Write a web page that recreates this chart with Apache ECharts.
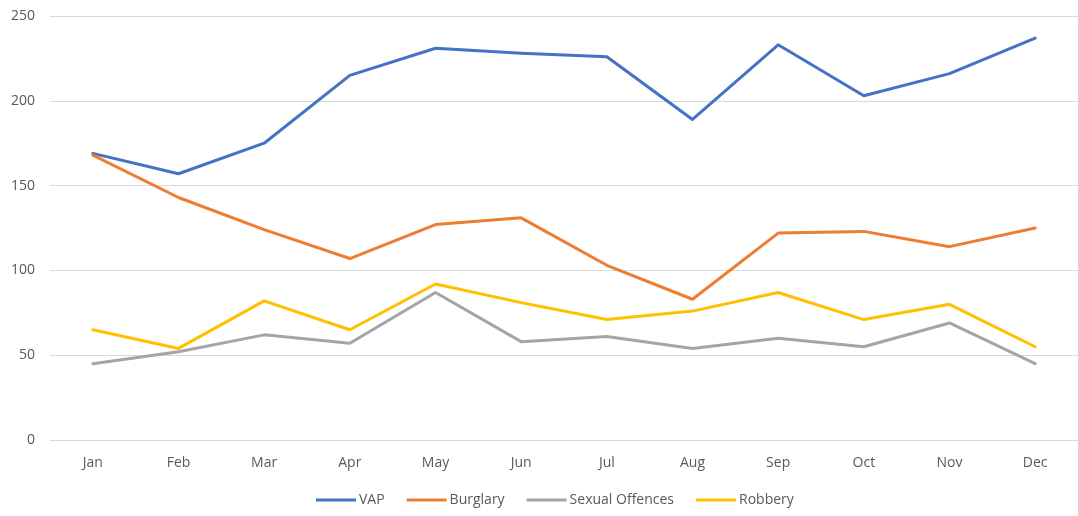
<!DOCTYPE html>
<html>
<head>
<meta charset="utf-8">
<script src="https://cdn.jsdelivr.net/npm/echarts@6/dist/echarts.min.js"></script>
<style>
html,body{margin:0;padding:0;background:#fff;}
#c{width:1078px;height:516px;}
</style>
</head>
<body>
<div id="c"></div>
<script>
const categories = ['Jan','Feb','Mar','Apr','May','Jun','Jul','Aug','Sep','Oct','Nov','Dec'];
const vap = [169, 157, 175, 215, 231, 228, 226, 189, 233, 203, 216, 237];
const burglary = [168, 143, 124, 107, 127, 131, 103, 83, 122, 123, 114, 125];
const sexualOffences = [45, 52, 62, 57, 87, 58, 61, 54, 60, 55, 69, 45];
const robbery = [65, 54, 82, 65, 92, 81, 71, 76, 87, 71, 80, 55];
const yTicks = [0, 50, 100, 150, 200, 250];

const chart = echarts.init(document.getElementById('c'));
const font = '"Open Sans", "Noto Sans", sans-serif';
const mk = (name, data, color) => ({
  name, type: 'line', data, symbol: 'none', smooth: false,
  lineStyle: { width: 3, color, cap: 'round', join: 'round' },
  itemStyle: { color }
});
chart.setOption({
  animation: false,
  backgroundColor: '#fff',
  grid: { left: 50, right: -4, top: 16, bottom: 76 },
  legend: {
    bottom: 4, left: 311,
    itemWidth: 40, itemHeight: 3, itemGap: 22,
    icon: 'rect',
    textStyle: { color: '#595959', fontSize: 14, fontFamily: font, padding: [0,0,0,-2] },
    data: ['VAP','Burglary','Sexual Offences','Robbery']
  },
  xAxis: {
    type: 'category', data: categories, boundaryGap: true,
    axisLine: { show: false }, axisTick: { show: false },
    axisLabel: { color: '#595959', fontSize: 14, fontFamily: font, margin: 16 }
  },
  yAxis: {
    type: 'value', min: yTicks[0], max: yTicks[yTicks.length-1], interval: 50,
    axisLine: { show: false }, axisTick: { show: false },
    axisLabel: { color: '#595959', fontSize: 14, fontFamily: font, margin: 15 },
    splitLine: { lineStyle: { color: '#d9d9d9', width: 1 } }
  },
  series: [
    mk('VAP', vap, '#4472C4'),
    mk('Burglary', burglary, '#ED7D31'),
    mk('Sexual Offences', sexualOffences, '#A5A5A5'),
    mk('Robbery', robbery, '#FFC000')
  ]
});
</script>
</body>
</html>
